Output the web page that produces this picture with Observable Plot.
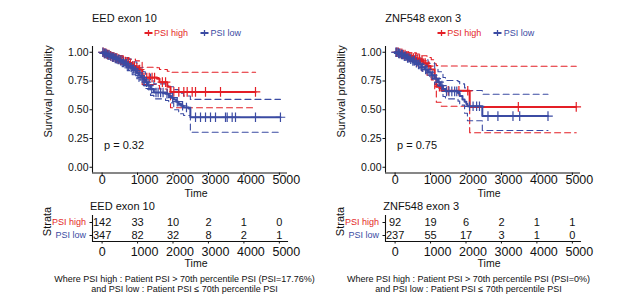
<!DOCTYPE html>
<html><head><meta charset="utf-8">
<script src="https://cdn.jsdelivr.net/npm/d3@7"></script>
<script src="https://cdn.jsdelivr.net/npm/@observablehq/plot@0.6"></script>
<style>
html,body{margin:0;padding:0;background:#fff;}
#root{position:relative;width:617px;height:300px;overflow:hidden;font-family:'Liberation Sans',Arial,Helvetica,sans-serif;color:#111;}
.abs{position:absolute;white-space:nowrap;}
</style></head><body><div id="root"></div>
<script>
// ---------- shared ----------
const strata = ["PSI high", "PSI low"];
const xTicks = [0, 1000, 2000, 3000, 4000, 5000];
const yTicks = [0, 0.25, 0.5, 0.75, 1];

// ---------- Panel 1: EED exon 10 ----------
const eedTitle = "EED exon 10";
const eedP = "p = 0.32";
const eedCaption = ["Where PSI high : Patient PSI > 70th percentile PSI (PSI=17.76%)", "and PSI low : Patient PSI \u2264 70th percentile PSI"];
const eedHighTime = [0, 60, 120, 200, 280, 360, 440, 520, 600, 680, 760, 850, 940, 1040, 1130, 1550, 1620, 1840, 1930, 4330];
const eedHighSurv = [1.0, .99, .98, .97, .96, .95, .94, .93, .92, .91, .90, .88, .865, .85, .78, .77, .74, .70, .655, .655];
const eedHighCiTime = [0, 120, 280, 440, 600, 760, 940, 1130, 1550, 1620, 1840, 1930, 4330];
const eedHighUpper = [1.0, .995, .985, .97, .955, .94, .925, .87, .865, .85, .835, .826, .826];
const eedHighLower = [1.0, .965, .94, .915, .89, .865, .83, .72, .71, .68, .63, .517, .517];
const eedHighCensor = [30, 70, 110, 150, 190, 240, 290, 330, 380, 420, 470, 520, 560, 610, 660, 700, 740, 800, 860, 910, 980, 1060, 1180, 1260, 1330, 1410, 1480, 1700, 1790, 2023, 2164, 2305, 2400, 2541, 2635, 2917, 3340, 4327];
const eedLowTime = [0, 50, 100, 160, 220, 285, 350, 420, 490, 567, 640, 710, 780, 849, 920, 980, 1040, 1100, 1160, 1220, 1290, 1365, 1460, 1790, 1880, 1950, 2020, 2090, 2160, 2230, 2300, 2440, 2490, 5030];
const eedLowSurv = [1.0, .99, .985, .975, .965, .957, .947, .937, .925, .913, .9, .885, .87, .856, .84, .82, .797, .78, .76, .74, .71, .68, .65, .64, .62, .605, .59, .57, .55, .535, .52, .51, .435, .435];
const eedLowCiTime = [0, 160, 285, 420, 567, 710, 849, 980, 1040, 1160, 1220, 1365, 1460, 1790, 1880, 2020, 2160, 2300, 2490, 5030];
const eedLowUpper = [1.0, .99, .98, .97, .955, .94, .915, .885, .865, .83, .81, .755, .725, .715, .70, .675, .645, .62, .59, .59];
const eedLowLower = [1.0, .96, .935, .905, .875, .84, .805, .77, .745, .71, .685, .625, .595, .58, .56, .50, .465, .45, .305, .305];
const eedLowCensor = [20, 60, 90, 130, 170, 200, 250, 300, 330, 370, 400, 450, 480, 530, 600, 650, 690, 740, 820, 880, 950, 1010, 1070, 1130, 1190, 1250, 1320, 1400, 1520, 1580, 1650, 1720, 1830, 1990, 2120, 2270, 2380, 2635, 2776, 2917, 3058, 3199, 3481, 3528, 3669, 3763, 4327, 5031];
const eedRiskHigh = [142, 33, 10, 2, 1, 0];
const eedRiskLow = [347, 82, 32, 8, 2, 1];

// ---------- Panel 2: ZNF548 exon 3 ----------
const znfTitle = "ZNF548 exon 3";
const znfP = "p = 0.75";
const znfCaption = ["Where PSI high : Patient PSI > 70th percentile PSI (PSI=0%)", "and PSI low : Patient PSI \u2264 70th percentile PSI"];
const znfHighTime = [0, 100, 200, 300, 400, 500, 600, 700, 800, 900, 1000, 1117, 1163, 1303, 2104, 5110];
const znfHighSurv = [1.0, .99, .98, .97, .96, .95, .94, .925, .905, .88, .85, .78, .70, .665, .525, .525];
const znfHighCiTime = [0, 200, 400, 600, 740, 900, 1020, 1117, 1163, 1303, 2104, 5110];
const znfHighUpper = [1.0, 1.0, .995, .985, .97, .955, .935, .90, .884, .88, .878, .878];
const znfHighLower = [1.0, .95, .92, .88, .84, .80, .76, .68, .565, .53, .30, .30];
const znfHighCensor = [40, 90, 140, 190, 230, 280, 330, 370, 420, 470, 520, 580, 640, 690, 760, 850, 950, 1250, 1500, 1800, 2050, 3476, 5110];
const znfLowTime = [0, 80, 160, 240, 320, 400, 480, 560, 640, 740, 830, 930, 1020, 1117, 1210, 1280, 1351, 1420, 1775, 1822, 1900, 1960, 2010, 2040, 2460, 4313];
const znfLowSurv = [1.0, .99, .98, .965, .95, .94, .925, .91, .895, .87, .85, .826, .80, .77, .74, .71, .68, .66, .645, .62, .59, .57, .55, .53, .445, .445];
const znfLowCiTime = [0, 160, 320, 480, 640, 740, 930, 1117, 1210, 1351, 1420, 1775, 1822, 1960, 2040, 2460, 4313];
const znfLowUpper = [1.0, .995, .985, .97, .95, .935, .905, .86, .83, .78, .755, .745, .725, .69, .667, .635, .635];
const znfLowLower = [1.0, .96, .93, .90, .865, .84, .785, .72, .685, .615, .595, .575, .54, .47, .405, .32, .32];
const znfLowCensor = [20, 60, 100, 130, 180, 210, 260, 300, 350, 390, 440, 500, 540, 600, 660, 700, 780, 860, 900, 980, 1060, 1160, 1240, 1320, 1450, 1520, 1600, 1680, 1740, 2100, 2200, 2300, 2380, 2620, 2900, 3325, 3515, 4313];
const znfRiskHigh = [92, 19, 6, 2, 1, 1];
const znfRiskLow = [237, 55, 17, 3, 1, 0];

// ---------- drawing ----------
const RED = "#E41F26", BLUE = "#3B4BA3", INK = "#111";
const FONT = "'Liberation Sans', Arial, Helvetica, sans-serif";
const root = document.getElementById("root");

function pts(times, vals) { return times.map((t, i) => ({t, v: vals[i]})); }
function stepAt(times, vals, t) { let k = 0; for (let i = 0; i < times.length; i++) if (times[i] <= t) k = i; return vals[k]; }
function cens(ct, times, vals) { return ct.map(t => ({t, v: stepAt(times, vals, t)})); }

function addDiv(html, css) {
  const d = document.createElement("div");
  d.className = "abs";
  d.style.cssText += css;
  d.innerHTML = html;
  root.appendChild(d);
  return d;
}
function place(svg, left, top) {
  svg.style.position = "absolute";
  svg.style.left = left + "px";
  svg.style.top = top + "px";
  root.appendChild(svg);
}

const xDomain = [-271, 5230];
const yDomain = [-0.05, 1.05];
const baseStyle = {fontFamily: FONT, fontSize: "11px", color: INK, background: "transparent", overflow: "visible"};
const fmtX = d3.format("d");

function xAxisMarks(pad) {
  return [
    Plot.axisX({ticks: xTicks, tickSize: 2.5, fill: "none", stroke: INK, label: null}),
    Plot.axisX({ticks: xTicks.slice(0, 1), tickFormat: fmtX, tickSize: 0, tickPadding: pad, fontSize: 12.5, fill: INK, label: null}),
    Plot.axisX({ticks: xTicks.slice(1), tickFormat: fmtX, tickSize: 0, tickPadding: pad, dx: 7, fontSize: 12.5, fill: INK, label: null})
  ];
}

function panel(p, ox) {
  const line = (data, color, w, dash) => Plot.line(data, {x: "t", y: "v", curve: "step-after", stroke: color, strokeWidth: w, strokeDasharray: dash});
  const main = Plot.plot({
    width: 300, height: 200,
    marginLeft: 92, marginRight: 13, marginTop: 46, marginBottom: 27.5,
    x: {domain: xDomain}, y: {domain: yDomain},
    style: baseStyle,
    marks: [
      line(pts(p.hiCiT, p.hiUp), RED, 1.1, "6,4"),
      line(pts(p.hiCiT, p.hiLo), RED, 1.1, "6,4"),
      line(pts(p.loCiT, p.loUp), BLUE, 1.1, "6,4"),
      line(pts(p.loCiT, p.loLo), BLUE, 1.1, "6,4"),
      line(pts(p.hiT, p.hiS), RED, 2),
      Plot.dot(cens(p.hiC, p.hiT, p.hiS), {x: "t", y: "v", symbol: "plus", r: 3.2, stroke: RED, strokeWidth: 1.2}),
      line(pts(p.loT, p.loS), BLUE, 2),
      Plot.dot(cens(p.loC, p.loT, p.loS), {x: "t", y: "v", symbol: "plus", r: 3.2, stroke: BLUE, strokeWidth: 1.2}),
      Plot.ruleX([xDomain[0]], {stroke: INK, strokeWidth: 1.1}),
      Plot.ruleY([yDomain[0]], {stroke: INK, strokeWidth: 1.1}),
      Plot.axisY({ticks: yTicks, tickFormat: d3.format(".2f"), tickSize: 2.5, tickPadding: 1.5, fontSize: 10.5, fill: INK, stroke: INK, label: null}),
      ...xAxisMarks(2.3),
      Plot.text([p.pval], {text: d => d, frameAnchor: "left", textAnchor: "start", dx: 11.5, dy: 35.3, fontSize: 11, fill: INK}),
      Plot.text(["Survival probability"], {text: d => d, frameAnchor: "left", textAnchor: "middle", lineAnchor: "middle", rotate: -90, dx: -44, dy: -18.3, fontSize: 11, fill: INK}),
      Plot.text(["Time"], {text: d => d, frameAnchor: "bottom", textAnchor: "middle", lineAnchor: "middle", dx: 6, dy: 20.5, fontSize: 10.5, fill: INK})
    ]
  });
  place(main, ox, 0);

  const risk = [];
  xTicks.forEach((t, i) => { risk.push({t, g: strata[0], n: p.rHi[i]}); risk.push({t, g: strata[1], n: p.rLo[i]}); });
  const table = Plot.plot({
    width: 300, height: 75,
    marginLeft: 92, marginRight: 13, marginTop: 20, marginBottom: 29,
    x: {domain: xDomain},
    y: {type: "point", domain: strata, padding: 0.5},
    style: baseStyle,
    marks: [
      Plot.ruleX([xDomain[0]], {stroke: INK, strokeWidth: 1.1}),
      Plot.frame({anchor: "bottom", stroke: INK, strokeWidth: 1.1}),
      Plot.axisY({tickSize: 2.5, fill: "none", stroke: INK, label: null}),
      Plot.text(strata, {text: d => d, y: d => d, frameAnchor: "left", textAnchor: "end", dx: -6.5, fontSize: 9, fill: d => d === strata[0] ? RED : BLUE}),
      Plot.text(risk, {x: "t", y: "g", text: "n", fontSize: 11, fill: INK}),
      ...xAxisMarks(5.3),
      Plot.text(["Strata"], {text: d => d, frameAnchor: "left", textAnchor: "middle", lineAnchor: "middle", rotate: -90, dx: -45.5, dy: -7, fontSize: 11, fill: INK}),
      Plot.text(["Time"], {text: d => d, frameAnchor: "bottom", textAnchor: "middle", lineAnchor: "middle", dx: 6, dy: 21.8, fontSize: 10.5, fill: INK})
    ]
  });
  place(table, ox, 195);

  // titles
  addDiv(p.title, `left:${ox + 92}px;top:11.5px;font-size:11px;line-height:13px;`);
  addDiv(p.title, `left:${ox + 90}px;top:199.5px;font-size:11px;line-height:13px;`);
  // legend
  const sw = c => `<svg width="9" height="8" style="display:block;margin-right:1.5px"><line x1="0.5" x2="8.5" y1="4" y2="4" stroke="${c}" stroke-width="2"/><line x1="4.5" x2="4.5" y1="1" y2="7" stroke="${c}" stroke-width="1.3"/></svg>`;
  addDiv(sw(RED) + strata[0], `left:${ox + 143.5}px;top:26.7px;height:12px;display:flex;align-items:center;font-size:9px;color:${RED};`);
  addDiv(sw(BLUE) + strata[1], `left:${ox + 200}px;top:26.7px;height:12px;display:flex;align-items:center;font-size:9px;color:${BLUE};`);
  // caption
  addDiv(p.caption.join("<br>"), `left:${p.capCenter - 150}px;width:300px;text-align:center;top:273.7px;font-size:9px;line-height:10px;`);
}

panel({
  title: eedTitle, pval: eedP, caption: eedCaption, capCenter: 184.5,
  hiT: eedHighTime, hiS: eedHighSurv, hiCiT: eedHighCiTime, hiUp: eedHighUpper, hiLo: eedHighLower, hiC: eedHighCensor,
  loT: eedLowTime, loS: eedLowSurv, loCiT: eedLowCiTime, loUp: eedLowUpper, loLo: eedLowLower, loC: eedLowCensor,
  rHi: eedRiskHigh, rLo: eedRiskLow
}, 0);
panel({
  title: znfTitle, pval: znfP, caption: znfCaption, capCenter: 468.5,
  hiT: znfHighTime, hiS: znfHighSurv, hiCiT: znfHighCiTime, hiUp: znfHighUpper, hiLo: znfHighLower, hiC: znfHighCensor,
  loT: znfLowTime, loS: znfLowSurv, loCiT: znfLowCiTime, loUp: znfLowUpper, loLo: znfLowLower, loC: znfLowCensor,
  rHi: znfRiskHigh, rLo: znfRiskLow
}, 293.3);
</script></body></html>
